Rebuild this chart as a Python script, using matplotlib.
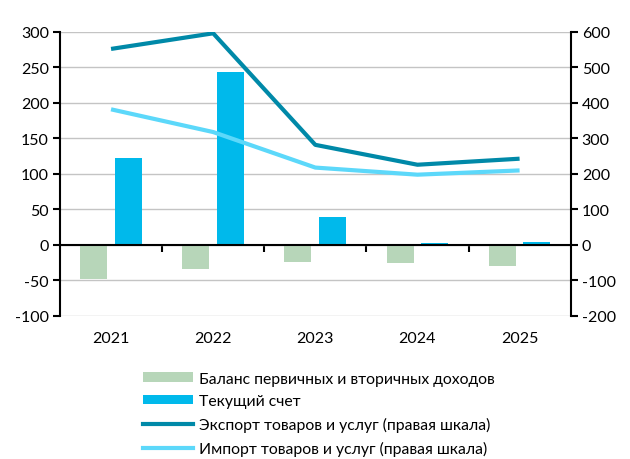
import matplotlib
matplotlib.use("Agg")
import matplotlib.pyplot as plt
from matplotlib.lines import Line2D
from matplotlib.patches import Patch
import numpy as np

plt.rcParams['font.family'] = ['Lato', 'DejaVu Sans']
plt.rcParams['axes.unicode_minus'] = False

years = ["2021", "2022", "2023", "2024", "2025"]
income_balance = [-49, -34, -25, -26, -30]
current_account = [122, 243, 39, 2, 4]
exports = [551, 595, 281, 225, 242]
imports = [381, 317, 217, 197, 209]

labels = ["Баланс первичных и вторичных доходов",
          "Текущий счет",
          "Экспорт товаров и услуг (правая шкала)",
          "Импорт товаров и услуг (правая шкала)"]

c_green = "#b7d6b9"
c_blue = "#00b9eb"
c_dark = "#0089a8"
c_light = "#5cd8fa"

fig = plt.figure(figsize=(6.3, 4.6), dpi=100)
ax = fig.add_axes([0.0952, 0.3115, 0.9058 - 0.0952, 0.9293 - 0.3115])
ax2 = ax.twinx()

x = np.arange(len(years))
w = 0.265
ax.bar(x - 0.17, income_balance, w, color=c_green, zorder=3)
ax.bar(x + 0.17, current_account, w, color=c_blue, zorder=3)

ax.set_ylim(-100, 300)
ax.set_yticks(range(-100, 301, 50))
ax.set_xlim(-0.5, 4.5)
ax.grid(axis='y', color='#c4c4c4', linewidth=1, zorder=0)
ax.set_axisbelow(True)

ax2.plot(x, exports, color=c_dark, linewidth=3, solid_capstyle='butt', zorder=4)
ax2.plot(x, imports, color=c_light, linewidth=3, solid_capstyle='butt', zorder=4)
ax2.set_ylim(-200, 600)
ax2.set_yticks(range(-200, 601, 100))

for a in (ax, ax2):
    a.spines['top'].set_visible(False)
    a.spines['bottom'].set_visible(False)
    a.tick_params(axis='y', labelsize=11.5, length=5, width=1.5, color='black', pad=3)
ax.spines['right'].set_visible(False)
ax2.spines['left'].set_visible(False)
ax.spines['left'].set_linewidth(1.5)
ax2.spines['right'].set_linewidth(1.5)
ax.spines['bottom'].set_visible(True)
ax.spines['bottom'].set_position(('data', 0))
ax.spines['bottom'].set_linewidth(1.5)
ax.spines['bottom'].set_zorder(5)

ax.set_xticks(x)
ax.set_xticklabels([])
ax.tick_params(axis='x', which='major', length=0)
ax.set_xticks([0.5, 1.5, 2.5, 3.5], minor=True)
ax.tick_params(axis='x', which='minor', length=5, width=1.5, direction='out', color='black')
ax2.set_xticks([])

for xi, yr in zip(x, years):
    ax.text(xi, -0.078, yr, transform=ax.get_xaxis_transform(), ha='center', va='center', fontsize=11.5)

handles = [Patch(facecolor=c_green, edgecolor='none'),
           Patch(facecolor=c_blue, edgecolor='none'),
           Line2D([0], [0], color=c_dark, linewidth=3),
           Line2D([0], [0], color=c_light, linewidth=3)]
fig.legend(handles, labels, loc='upper left', bbox_to_anchor=(0.214, 0.207),
           frameon=False, fontsize=11.3, handlelength=3.2, handleheight=0.55,
           labelspacing=0.55, borderpad=0, handletextpad=0.4)

fig.savefig("out.png", dpi=100)
